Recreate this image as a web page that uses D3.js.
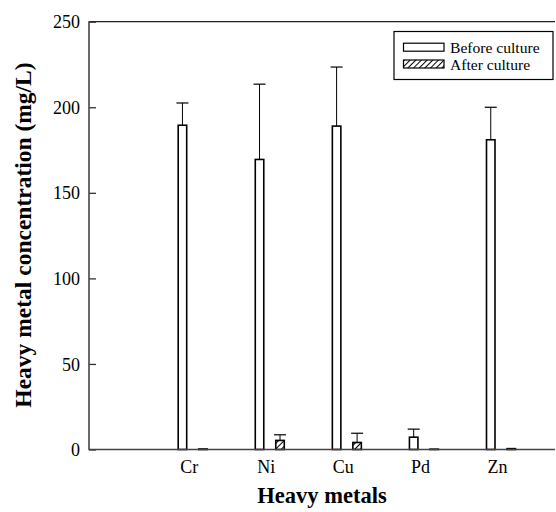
<!DOCTYPE html>
<html><head><meta charset="utf-8">
<script src="https://cdn.jsdelivr.net/npm/d3@7"></script>
<style>body{margin:0;background:#fff}svg{display:block}
svg text{font-family:"Liberation Serif","DejaVu Serif","Times New Roman",Times,serif !important;}</style>
</head><body>
<svg id="chart" width="556" height="512"></svg>
<script>
const categories = ["Cr", "Ni", "Cu", "Pd", "Zn"];
const beforeValues = [189.5, 169.5, 189, 7.2, 181];
const beforeErrors = [13, 44, 34.5, 4.7, 19];
const afterValues = [0.3, 5.3, 4.1, 0.2, 0.5];
const afterErrors = [0, 3.3, 5.4, 0, 0];
const yTicks = [0, 50, 100, 150, 200, 250];
const seriesNames = ["Before culture", "After culture"];

(function () {
const svg = d3.select("#chart");
const pLeft = 89, pRight = 555, pTop = 21.7, pBottom = 449.5;

const y = d3.scaleLinear().domain([0, 250]).range([pBottom, pTop]);
const x = d3.scalePoint().domain(categories).range([192.7, 501]);
const off = 10.25, bw = 8.5, capW = 12;

const defs = svg.append("defs");
const pat = defs.append("pattern").attr("id", "hatch").attr("patternUnits", "userSpaceOnUse")
  .attr("width", 4).attr("height", 4).attr("patternTransform", "rotate(45)");
pat.append("rect").attr("width", 4).attr("height", 4).attr("fill", "#fff");
pat.append("line").attr("x1", 0).attr("y1", 0).attr("x2", 0).attr("y2", 4)
  .attr("stroke", "#000").attr("stroke-width", 2);

// frame
svg.append("line").attr("x1", pLeft).attr("x2", pRight).attr("y1", pTop).attr("y2", pTop)
  .attr("stroke", "#222").attr("stroke-width", 1.2);

// y axis
const yAxis = d3.axisRight(y).tickValues(yTicks).tickSize(7).tickFormat(d3.format("d"));
const gy = svg.append("g").attr("transform", `translate(${pLeft},0)`).call(yAxis);
gy.select(".domain").remove();
gy.selectAll(".tick line").attr("stroke", "#333").attr("stroke-width", 1.3);
gy.selectAll(".tick text").attr("x", -9).attr("text-anchor", "end")
  .attr("font-size", 18).attr("fill", "#000").attr("dy", "0.34em");
svg.append("line").attr("x1", pLeft).attr("x2", pLeft).attr("y1", pTop - 0.5).attr("y2", pBottom + 0.5)
  .attr("stroke", "#444").attr("stroke-width", 1.6);

// x axis
const xAxis = d3.axisBottom(x).tickSize(0);
const gx = svg.append("g").attr("transform", `translate(0,${pBottom})`).call(xAxis);
gx.select(".domain").remove();
gx.selectAll(".tick text").attr("font-size", 18).attr("fill", "#000")
  .attr("x", -4).attr("y", 23).attr("dy", 0);

function drawSeries(vals, errs, dx, fill, sw) {
  const g = svg.append("g");
  categories.forEach((c, i) => {
    const cx = x(c) + dx;
    const e = errs[i];
    if (e > 0) {
      g.append("line").attr("x1", cx).attr("x2", cx).attr("y1", y(vals[i])).attr("y2", y(vals[i] + e))
        .attr("stroke", "#000").attr("stroke-width", 1);
      g.append("line").attr("x1", cx - capW / 2).attr("x2", cx + capW / 2)
        .attr("y1", y(vals[i] + e)).attr("y2", y(vals[i] + e))
        .attr("stroke", "#000").attr("stroke-width", 1.2);
    }
    g.append("rect").attr("x", cx - bw / 2).attr("width", bw)
      .attr("y", y(vals[i])).attr("height", Math.max(0, y(0) - y(vals[i])))
      .attr("fill", fill).attr("stroke", "#000").attr("stroke-width", sw);
  });
}
drawSeries(beforeValues, beforeErrors, -off, "#fff", 1.6);
drawSeries(afterValues, afterErrors, off, "url(#hatch)", 1.6);

svg.append("line").attr("x1", pLeft).attr("x2", pRight).attr("y1", pBottom).attr("y2", pBottom)
  .attr("stroke", "#444").attr("stroke-width", 1.6);

// legend
const lg = svg.append("g");
lg.append("rect").attr("x", 394).attr("y", 31.5).attr("width", 159).attr("height", 48)
  .attr("fill", "#fff").attr("stroke", "#000").attr("stroke-width", 1.2);
[["#fff", 43.2, 52.6], ["url(#hatch)", 60, 70.4]].forEach((d, i) => {
  lg.append("rect").attr("x", 403.5).attr("y", d[1]).attr("width", 40.5).attr("height", 8)
    .attr("fill", d[0]).attr("stroke", "#000").attr("stroke-width", 1.2);
  lg.append("text").attr("x", 450).attr("y", d[2]).text(seriesNames[i])
    .attr("font-size", 15.6).attr("fill", "#000");
});

// titles
svg.append("text").attr("x", 322).attr("y", 503).attr("text-anchor", "middle")
  .attr("font-size", 22.5).attr("font-weight", "bold").text("Heavy metals");
svg.append("text").attr("transform", "translate(31,235) rotate(-90)").attr("text-anchor", "middle")
  .attr("font-size", 23.5).attr("font-weight", "bold")
  .text("Heavy metal concentration (mg/L)");
})();
</script>
</body></html>
